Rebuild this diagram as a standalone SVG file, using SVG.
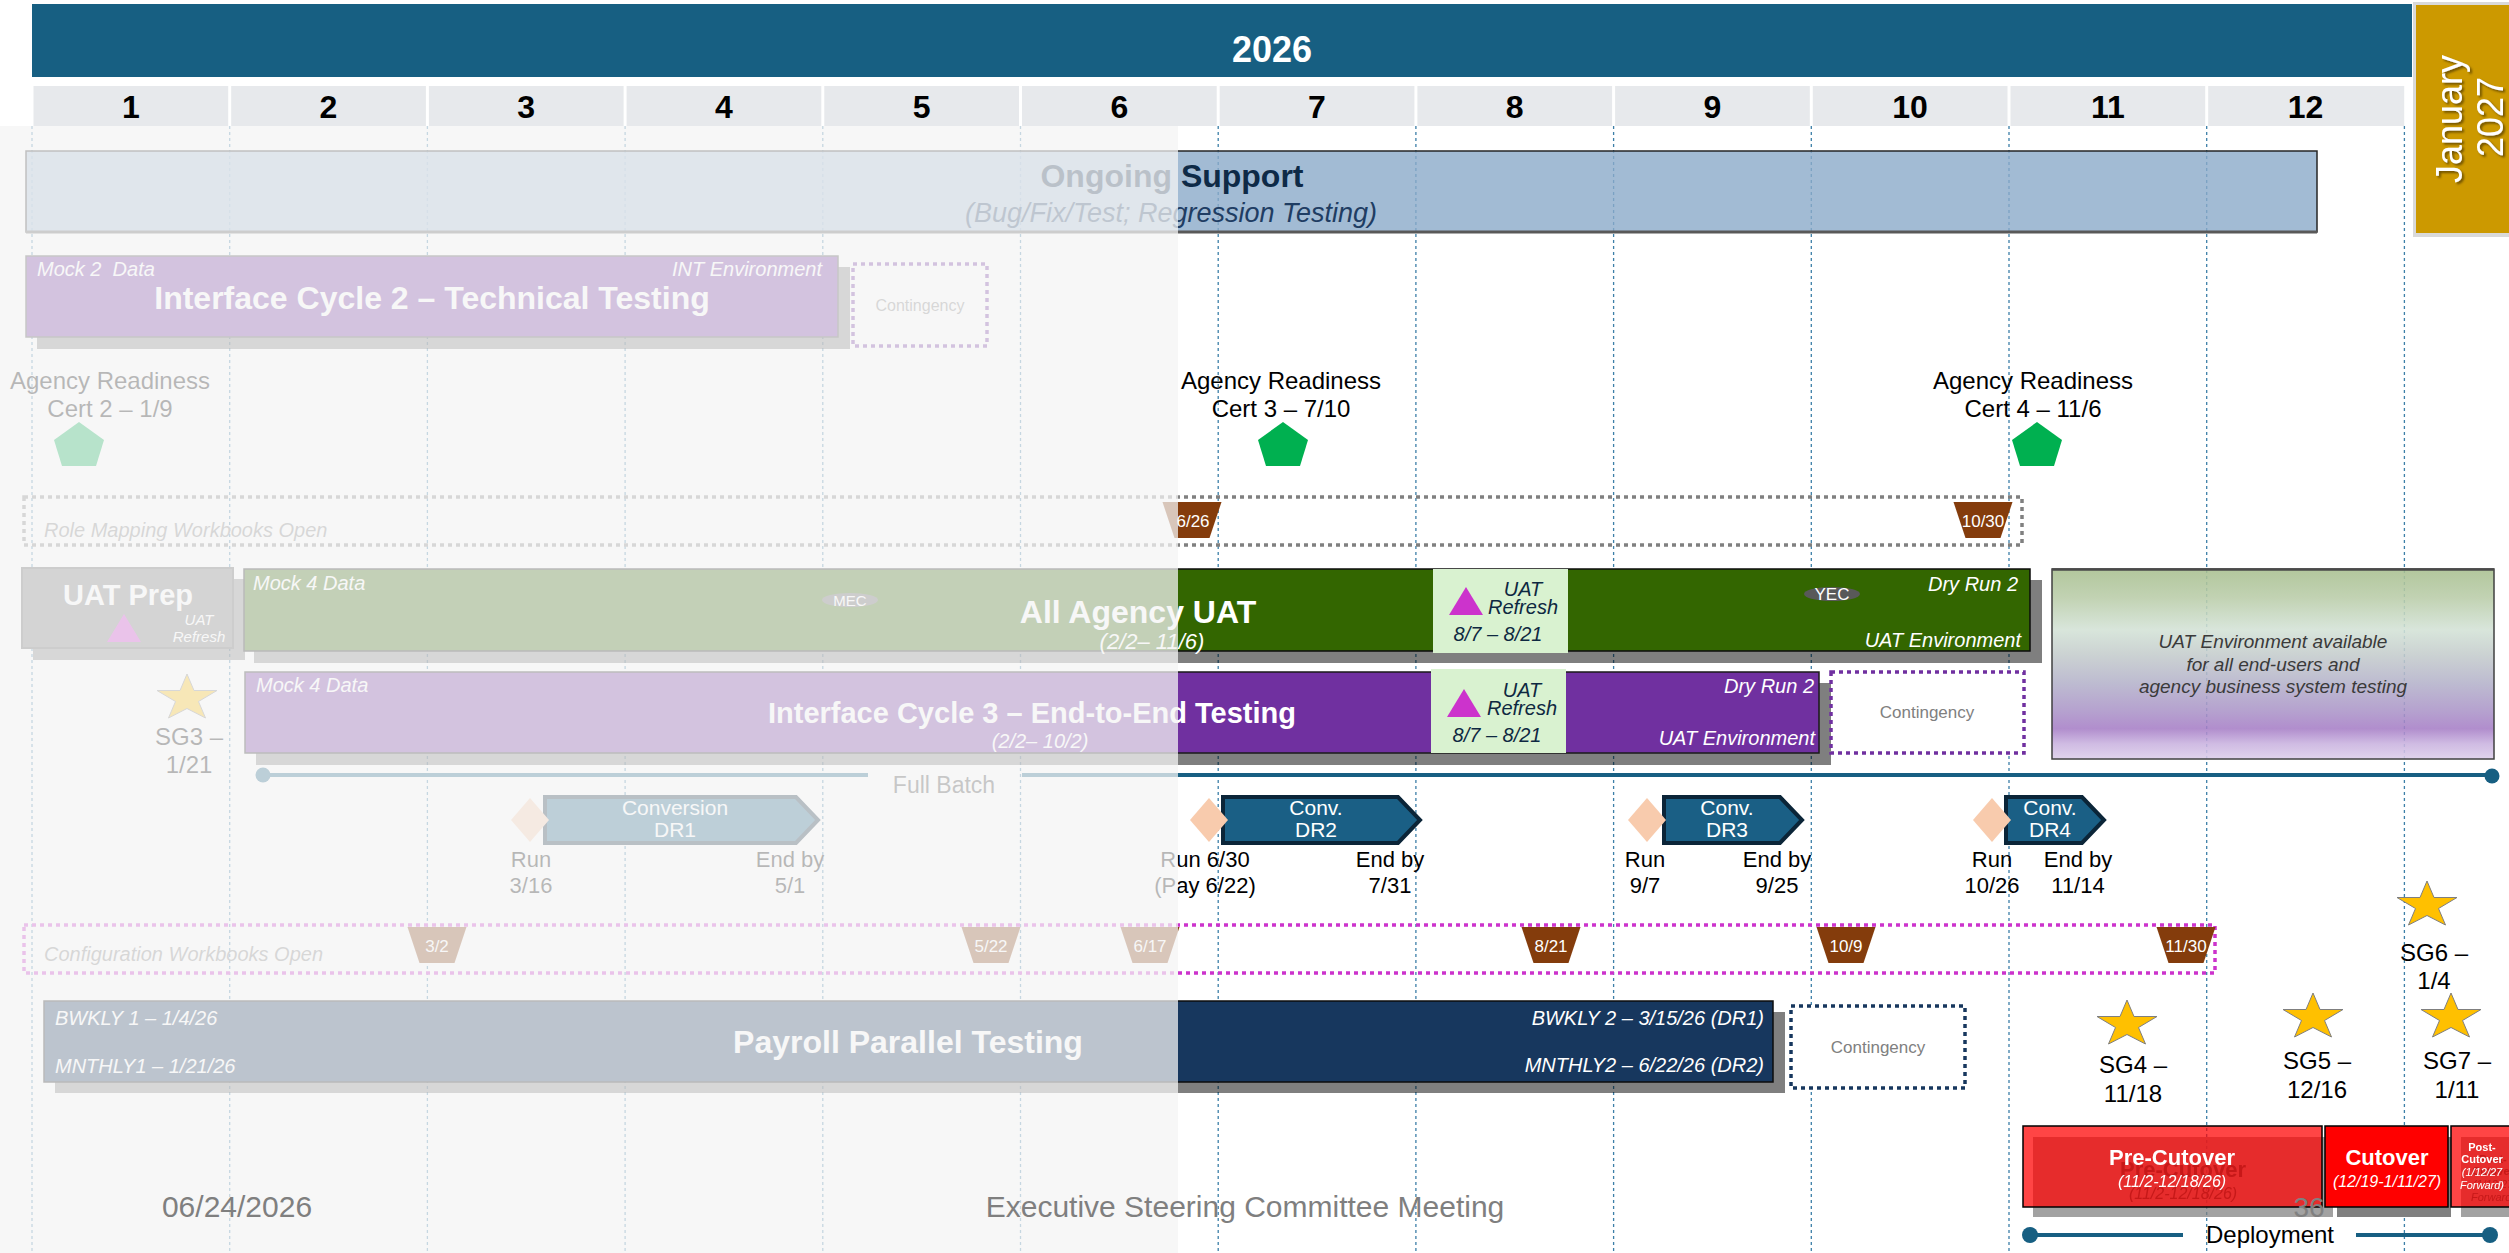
<svg xmlns="http://www.w3.org/2000/svg" xmlns:xlink="http://www.w3.org/1999/xlink" width="2509" height="1253" viewBox="0 0 2509 1253">
<style>
text{font-family:"Liberation Sans",Arial,sans-serif;}
.b{font-weight:bold}.i{font-style:italic}.w{fill:#fff}.m{text-anchor:middle}.e{text-anchor:end}.k{fill:#000}.g{fill:#808080}
.grid line{stroke:#3c7fa8;stroke-width:1.3;stroke-dasharray:3 3}
.shadow{fill:#000;opacity:.5}
.trap{fill:#843c0c}
.diam{fill:#f8cbad}
.arrow{fill:#1a5f85;stroke:#0b2538;stroke-width:4}
.pent{fill:#00b050}
.star{fill:#ffc000;stroke:#7f7f7f;stroke-width:1}
.tri{fill:#cc33cc}
.cont{fill:#fff;stroke-width:3.5;stroke-dasharray:4 4}
.conn{stroke:#175f82;stroke-width:4;fill:none}
.dot{fill:#175f82}
</style>
<defs>
<polygon id="star" class="star" points="0,0 7,16.5 30,16.5 11.5,27.5 18.5,44 0,34.5 -18.5,44 -11.5,27.5 -30,16.5 -7,16.5"/>
<polygon id="trap" class="trap" points="-29.5,0 29.5,0 17.5,36 -17.5,36"/>
<polygon id="diam" class="diam" points="0,-22 19,0 0,22 -19,0"/>
<polygon id="pent" class="pent" points="0,0 25,18 17,44 -17,44 -25,18"/>
<polygon id="tri" class="tri" points="17,0 34,28 0,28"/>
<linearGradient id="uatGrad" x1="0" y1="0" x2="0" y2="1">
<stop offset="0" stop-color="#a8bf8f"/>
<stop offset="0.15" stop-color="#b9cca8"/>
<stop offset="0.32" stop-color="#d3e2d6"/>
<stop offset="0.45" stop-color="#c4cccc"/>
<stop offset="0.6" stop-color="#b4b2ca"/>
<stop offset="0.75" stop-color="#ab94c8"/>
<stop offset="0.84" stop-color="#a67ec6"/>
<stop offset="0.92" stop-color="#c9b2df"/>
<stop offset="1" stop-color="#dccdea"/>
</linearGradient>
<filter id="ds" x="-20%" y="-20%" width="140%" height="140%">
<feDropShadow dx="2" dy="2" stdDeviation="1" flood-color="#5a4200" flood-opacity=".8"/>
</filter>
<filter id="ghost" x="-20%" y="-50%" width="150%" height="250%">
<feDropShadow dx="11" dy="12" stdDeviation="0.3" flood-color="#a01010" flood-opacity=".45"/>
</filter>
</defs>
<rect x="0" y="0" width="2509" height="1253" fill="#fff"/>

<g id="header">
<rect x="32" y="4" width="2380" height="73" fill="#175f82"/>
<text x="1272" y="62" class="b w m" font-size="36">2026</text>
<g fill="#e7e9ec">
<rect x="33.5" y="86" width="194.7" height="40"/>
<rect x="231.2" y="86" width="194.7" height="40"/>
<rect x="428.9" y="86" width="194.7" height="40"/>
<rect x="626.6" y="86" width="194.7" height="40"/>
<rect x="824.3" y="86" width="194.7" height="40"/>
<rect x="1022" y="86" width="194.7" height="40"/>
<rect x="1219.7" y="86" width="194.7" height="40"/>
<rect x="1417.4" y="86" width="194.7" height="40"/>
<rect x="1615.1" y="86" width="194.7" height="40"/>
<rect x="1812.8" y="86" width="194.7" height="40"/>
<rect x="2010.5" y="86" width="194.7" height="40"/>
<rect x="2208.2" y="86" width="196" height="40"/>
</g>
<g class="b k m" font-size="32">
<text x="131" y="118">1</text>
<text x="328.5" y="118">2</text>
<text x="526.2" y="118">3</text>
<text x="724" y="118">4</text>
<text x="921.6" y="118">5</text>
<text x="1119.3" y="118">6</text>
<text x="1317" y="118">7</text>
<text x="1514.7" y="118">8</text>
<text x="1712.4" y="118">9</text>
<text x="1910.1" y="118">10</text>
<text x="2107.8" y="118">11</text>
<text x="2305.5" y="118">12</text>
</g>
</g>

<g id="january-2027">
<rect x="2413" y="2" width="98" height="235" fill="#d9d9d9"/>
<rect x="2416" y="5" width="95" height="228" fill="#cc9900"/>
<g filter="url(#ds)">
<text transform="translate(2462,119) rotate(-90)" class="w m" font-size="36">January</text>
<text transform="translate(2503,117) rotate(-90)" class="w m" font-size="36">2027</text>
</g>
</g>

<g class="grid">
<line x1="32" y1="126" x2="32" y2="1253"/>
<line x1="229.7" y1="126" x2="229.7" y2="1253"/>
<line x1="427.4" y1="126" x2="427.4" y2="1253"/>
<line x1="625.1" y1="126" x2="625.1" y2="1253"/>
<line x1="822.8" y1="126" x2="822.8" y2="1253"/>
<line x1="1020.5" y1="126" x2="1020.5" y2="1253"/>
<line x1="1218.2" y1="126" x2="1218.2" y2="1253"/>
<line x1="1415.9" y1="126" x2="1415.9" y2="1253"/>
<line x1="1613.6" y1="126" x2="1613.6" y2="1253"/>
<line x1="1811.3" y1="126" x2="1811.3" y2="1253"/>
<line x1="2009" y1="126" x2="2009" y2="1253"/>
<line x1="2206.7" y1="126" x2="2206.7" y2="1253"/>
<line x1="2404.4" y1="126" x2="2404.4" y2="1253"/>
</g>

<g id="ongoing-support">
<rect x="26" y="151" width="2291" height="81" fill="#8baac9" fill-opacity=".8" stroke="#262626" stroke-width="1.5"/>
<line x1="26" y1="232" x2="2317" y2="232" stroke="#595959" stroke-width="3"/>
<text x="1172" y="187" class="b m" font-size="32" fill="#0e2a47">Ongoing Support</text>
<text x="1171" y="222" class="i m" font-size="27" fill="#1f3d63">(Bug/Fix/Test; Regression Testing)</text>
</g>

<g id="interface-cycle-2">
<rect x="37" y="267" width="813" height="82" class="shadow"/>
<rect x="26" y="256" width="812" height="81" fill="#7030a0" stroke="#404040" stroke-width="1.5"/>
<text x="37" y="276" class="i w" font-size="20" xml:space="preserve">Mock 2  Data</text>
<text x="822" y="276" class="i w e" font-size="20">INT Environment</text>
<text x="432" y="309" class="b w m" font-size="32">Interface Cycle 2 – Technical Testing</text>
</g>

<g id="ic2-contingency">
<rect x="853" y="264" width="134" height="82" class="cont" stroke="#7030a0"/>
<text x="920" y="311" class="m g" font-size="16">Contingency</text>
</g>

<g id="cert2">
<text x="110" y="389" class="m k" font-size="24">Agency Readiness</text>
<text x="110" y="417" class="m k" font-size="24">Cert 2 – 1/9</text>
<use xlink:href="#pent" x="79" y="422"/>
</g>
<g id="cert3">
<text x="1281" y="389" class="m k" font-size="24">Agency Readiness</text>
<text x="1281" y="417" class="m k" font-size="24">Cert 3 – 7/10</text>
<use xlink:href="#pent" x="1283" y="422"/>
</g>
<g id="cert4">
<text x="2033" y="389" class="m k" font-size="24">Agency Readiness</text>
<text x="2033" y="417" class="m k" font-size="24">Cert 4 – 11/6</text>
<use xlink:href="#pent" x="2037" y="422"/>
</g>

<g id="role-mapping">
<rect x="24" y="497" width="1998" height="48" fill="none" stroke="#808080" stroke-width="3.5" stroke-dasharray="4 4"/>
<text x="44" y="537" class="i g" font-size="20">Role Mapping Workbooks Open</text>
<use xlink:href="#trap" x="1192" y="502"/>
<text x="1193" y="527" class="w m" font-size="17">6/26</text>
<use xlink:href="#trap" x="1983" y="502"/>
<text x="1983" y="527" class="w m" font-size="17">10/30</text>
</g>

<g id="uat-prep">
<rect x="33" y="579" width="212" height="81" class="shadow"/>
<rect x="22" y="568" width="211" height="80" fill="#737373" stroke="#595959" stroke-width="2"/>
<text x="128" y="605" class="b w m" font-size="29">UAT Prep</text>
<use xlink:href="#tri" x="107" y="614"/>
<text x="199" y="625" class="i w m" font-size="15">UAT</text>
<text x="199" y="642" class="i w m" font-size="15">Refresh</text>
</g>

<g id="all-agency-uat">
<rect x="254" y="580" width="1788" height="83" class="shadow"/>
<rect x="244" y="569" width="1786" height="82" fill="#336600" stroke="#0d0d0d" stroke-width="1.5"/>
<text x="253" y="590" class="i w" font-size="20">Mock 4 Data</text>
<text x="1138" y="623" class="b w m" font-size="32">All Agency UAT</text>
<text x="1152" y="649" class="i w m" font-size="22">(2/2– 11/6)</text>
<ellipse cx="850" cy="600" rx="28" ry="7" fill="#595959"/>
<text x="850" y="606" class="w m" font-size="15">MEC</text>
<ellipse cx="1832" cy="594" rx="28" ry="7" fill="#595959"/>
<text x="1832" y="600" class="w m" font-size="17">YEC</text>
<rect x="1433" y="569" width="135" height="84" fill="#d9f2d0"/>
<use xlink:href="#tri" x="1449" y="587"/>
<text x="1523" y="596" class="i m" font-size="20" fill="#0e2841">UAT</text>
<text x="1523" y="614" class="i m" font-size="20" fill="#0e2841">Refresh</text>
<text x="1498" y="641" class="i m" font-size="20" fill="#0e2841">8/7 – 8/21</text>
<text x="2018" y="591" class="i w e" font-size="20">Dry Run 2</text>
<text x="2021" y="647" class="i w e" font-size="20">UAT Environment</text>
</g>

<g id="interface-cycle-3">
<rect x="256" y="683" width="1575" height="82" class="shadow"/>
<rect x="245" y="672" width="1574" height="81" fill="#7030a0" stroke="#1a1a1a" stroke-width="1.5"/>
<text x="256" y="692" class="i w" font-size="20">Mock 4 Data</text>
<text x="1032" y="723" class="b w m" font-size="29">Interface Cycle 3 – End-to-End Testing</text>
<text x="1040" y="748" class="i w m" font-size="20">(2/2– 10/2)</text>
<rect x="1431" y="669" width="135" height="84" fill="#d9f2d0"/>
<use xlink:href="#tri" x="1447" y="689"/>
<text x="1522" y="697" class="i m" font-size="20" fill="#0e2841">UAT</text>
<text x="1522" y="715" class="i m" font-size="20" fill="#0e2841">Refresh</text>
<text x="1497" y="742" class="i m" font-size="20" fill="#0e2841">8/7 – 8/21</text>
<text x="1814" y="693" class="i w e" font-size="20">Dry Run 2</text>
<text x="1815" y="745" class="i w e" font-size="20">UAT Environment</text>
</g>

<g id="ic3-contingency">
<rect x="1831" y="672" width="193" height="81" class="cont" stroke="#7030a0"/>
<text x="1927" y="718" class="m g" font-size="17">Contingency</text>
</g>

<g id="uat-environment">
<rect x="2052" y="569" width="442" height="190" fill="url(#uatGrad)" fill-opacity=".88" stroke="#404040" stroke-width="1.5"/>
<line x1="2052" y1="569.5" x2="2494" y2="569.5" stroke="#4a4a4a" stroke-width="2.5"/>
<text x="2273" y="648" class="i m" font-size="19" fill="#3a3a3a">UAT Environment available</text>
<text x="2273" y="671" class="i m" font-size="19" fill="#3a3a3a">for all end-users and</text>
<text x="2273" y="693" class="i m" font-size="19" fill="#3a3a3a">agency business system testing</text>
</g>

<g id="sg3">
<use xlink:href="#star" x="187" y="674"/>
<text x="189" y="745" class="m k" font-size="24">SG3 –</text>
<text x="189" y="773" class="m k" font-size="24">1/21</text>
</g>

<g id="connectors">
<g id="full-batch">
<line x1="263" y1="775" x2="868" y2="775" class="conn"/>
<line x1="1022" y1="775" x2="2492" y2="775" class="conn"/>
<circle cx="263" cy="775" r="7.5" class="dot"/>
<circle cx="2492" cy="776" r="7.5" class="dot"/>
<text x="944" y="793" class="m" font-size="23" fill="#404040">Full Batch</text>
</g>
<g id="deployment">
<line x1="2030" y1="1235" x2="2183" y2="1235" class="conn"/>
<line x1="2356" y1="1235" x2="2490" y2="1235" class="conn"/>
<circle cx="2030" cy="1235" r="8" class="dot"/>
<circle cx="2490" cy="1235" r="8" class="dot"/>
<text x="2270" y="1243" class="m k" font-size="24">Deployment</text>
</g>
</g>

<g id="conversion-dr1">
<path d="M545,797 H796 L818,820 L796,843 H545 Z" class="arrow"/>
<use xlink:href="#diam" x="530" y="820"/>
<text x="675" y="815" class="w m" font-size="21">Conversion</text>
<text x="675" y="837" class="w m" font-size="21">DR1</text>
<text x="531" y="867" class="m k" font-size="22">Run</text>
<text x="531" y="893" class="m k" font-size="22">3/16</text>
<text x="790" y="867" class="m k" font-size="22">End by</text>
<text x="790" y="893" class="m k" font-size="22">5/1</text>
</g>
<g id="conversion-dr2">
<path d="M1223,797 H1398 L1420,820 L1398,843 H1223 Z" class="arrow"/>
<use xlink:href="#diam" x="1209" y="820"/>
<text x="1316" y="815" class="w m" font-size="21">Conv.</text>
<text x="1316" y="837" class="w m" font-size="21">DR2</text>
<text x="1205" y="867" class="m k" font-size="22">Run 6/30</text>
<text x="1205" y="893" class="m k" font-size="22">(Pay 6/22)</text>
<text x="1390" y="867" class="m k" font-size="22">End by</text>
<text x="1390" y="893" class="m k" font-size="22">7/31</text>
</g>
<g id="conversion-dr3">
<path d="M1664,797 H1780 L1802,820 L1780,843 H1664 Z" class="arrow"/>
<use xlink:href="#diam" x="1647" y="820"/>
<text x="1727" y="815" class="w m" font-size="21">Conv.</text>
<text x="1727" y="837" class="w m" font-size="21">DR3</text>
<text x="1645" y="867" class="m k" font-size="22">Run</text>
<text x="1645" y="893" class="m k" font-size="22">9/7</text>
<text x="1777" y="867" class="m k" font-size="22">End by</text>
<text x="1777" y="893" class="m k" font-size="22">9/25</text>
</g>
<g id="conversion-dr4">
<path d="M2006,797 H2082 L2104,820 L2082,843 H2006 Z" class="arrow"/>
<use xlink:href="#diam" x="1992" y="820"/>
<text x="2050" y="815" class="w m" font-size="21">Conv.</text>
<text x="2050" y="837" class="w m" font-size="21">DR4</text>
<text x="1992" y="867" class="m k" font-size="22">Run</text>
<text x="1992" y="893" class="m k" font-size="22">10/26</text>
<text x="2078" y="867" class="m k" font-size="22">End by</text>
<text x="2078" y="893" class="m k" font-size="22">11/14</text>
</g>

<g id="configuration-workbooks">
<rect x="24" y="925" width="2191" height="48" fill="none" stroke="#cc33cc" stroke-width="3.5" stroke-dasharray="4 4"/>
<text x="44" y="961" class="i g" font-size="20">Configuration Workbooks Open</text>
<use xlink:href="#trap" x="437" y="927"/><text x="437" y="952" class="w m" font-size="17">3/2</text>
<use xlink:href="#trap" x="991" y="927"/><text x="991" y="952" class="w m" font-size="17">5/22</text>
<use xlink:href="#trap" x="1150" y="927"/><text x="1150" y="952" class="w m" font-size="17">6/17</text>
<use xlink:href="#trap" x="1551" y="927"/><text x="1551" y="952" class="w m" font-size="17">8/21</text>
<use xlink:href="#trap" x="1846" y="927"/><text x="1846" y="952" class="w m" font-size="17">10/9</text>
<use xlink:href="#trap" x="2186" y="927"/><text x="2186" y="952" class="w m" font-size="17">11/30</text>
</g>

<g id="payroll-parallel-testing">
<rect x="55" y="1012" width="1730" height="81" class="shadow"/>
<rect x="44" y="1001" width="1729" height="81" fill="#17375e" stroke="#0d0d0d" stroke-width="1.5"/>
<text x="55" y="1025" class="i w" font-size="20">BWKLY 1 – 1/4/26</text>
<text x="55" y="1073" class="i w" font-size="20">MNTHLY1 – 1/21/26</text>
<text x="908" y="1053" class="b w m" font-size="32">Payroll Parallel Testing</text>
<text x="1764" y="1025" class="i w e" font-size="20">BWKLY 2 – 3/15/26 (DR1)</text>
<text x="1764" y="1072" class="i w e" font-size="20">MNTHLY2 – 6/22/26 (DR2)</text>
</g>

<g id="payroll-contingency">
<rect x="1791" y="1006" width="174" height="82" class="cont" stroke="#17375e"/>
<text x="1878" y="1053" class="m g" font-size="17">Contingency</text>
</g>

<g id="sg4">
<use xlink:href="#star" x="2127" y="1000"/>
<text x="2133" y="1073" class="m k" font-size="24">SG4 –</text>
<text x="2133" y="1102" class="m k" font-size="24">11/18</text>
</g>
<g id="sg5">
<use xlink:href="#star" x="2313" y="993"/>
<text x="2317" y="1069" class="m k" font-size="24">SG5 –</text>
<text x="2317" y="1098" class="m k" font-size="24">12/16</text>
</g>
<g id="sg6">
<use xlink:href="#star" x="2427" y="881"/>
<text x="2434" y="961" class="m k" font-size="24">SG6 –</text>
<text x="2434" y="989" class="m k" font-size="24">1/4</text>
</g>
<g id="sg7">
<use xlink:href="#star" x="2451" y="993"/>
<text x="2457" y="1069" class="m k" font-size="24">SG7 –</text>
<text x="2457" y="1098" class="m k" font-size="24">1/11</text>
</g>

<g id="pre-cutover">
<rect x="2033" y="1137" width="300" height="80" fill="#808080" opacity=".73"/>
<rect x="2023" y="1126" width="299" height="81" fill="#ff0000" fill-opacity=".73" stroke="#000" stroke-width="1.5"/>
<g filter="url(#ghost)">
<text x="2172" y="1165" class="b w m" font-size="22">Pre-Cutover</text>
<text x="2172" y="1187" class="i w m" font-size="16">(11/2-12/18/26)</text>
</g>
</g>
<g id="cutover">
<rect x="2337" y="1137" width="114" height="80" fill="#808080"/>
<rect x="2325" y="1126" width="123" height="81" fill="#ff0000" stroke="#000" stroke-width="1.5"/>
<text x="2387" y="1165" class="b w m" font-size="22">Cutover</text>
<text x="2387" y="1187" class="i w m" font-size="16">(12/19-1/11/27)</text>
</g>
<g id="post-cutover">
<rect x="2461" y="1137" width="60" height="80" fill="#808080" opacity=".73"/>
<rect x="2451" y="1126" width="70" height="81" fill="#ff0000" fill-opacity=".73" stroke="#000" stroke-width="1.5"/>
<g filter="url(#ghost)">
<text x="2482" y="1151" class="b w m" font-size="11">Post-</text>
<text x="2482" y="1163" class="b w m" font-size="11">Cutover</text>
<text x="2482" y="1176" class="i w m" font-size="11">(1/12/27</text>
<text x="2482" y="1189" class="i w m" font-size="11">Forward)</text>
</g>
</g>

<rect id="fade-overlay" x="0" y="126" width="1178" height="1127" fill="#f4f4f4" opacity=".75"/>

<g id="footer">
<text x="237" y="1217" class="m" font-size="30" fill="#7f7f7f">06/24/2026</text>
<text x="1245" y="1217" class="m" font-size="30" fill="#7f7f7f">Executive Steering Committee Meeting</text>
<text x="2309" y="1217" class="m" font-size="28" fill="#808080">36</text>
</g>
</svg>
